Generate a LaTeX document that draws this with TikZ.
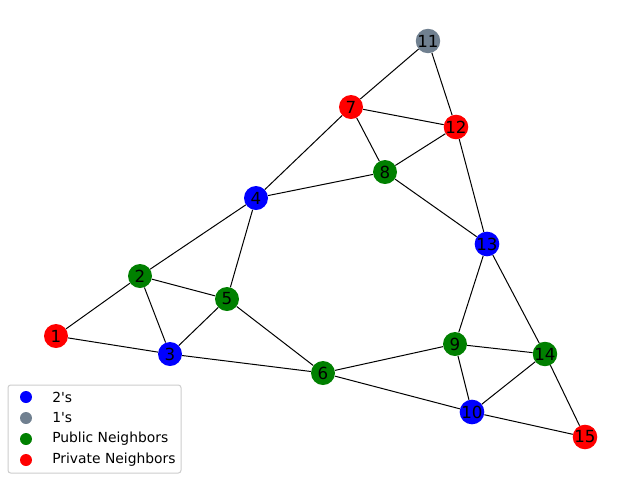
\documentclass[tikz,border=0pt]{standalone}
\usepackage{fontspec}
\setmainfont{DejaVu Sans}
\definecolor{pub}{HTML}{008000}
\definecolor{twos}{HTML}{0000FF}
\definecolor{ones}{HTML}{708090}
\definecolor{priv}{HTML}{FF0000}
\begin{document}
\begin{tikzpicture}[x=0.75pt,y=-0.75pt,
  vtx/.style={circle,minimum size=18pt,inner sep=0pt,draw=none,font=\fontsize{12.5}{14}\selectfont},
  edge/.style={draw=black,line width=0.75pt},
  lgm/.style={circle,minimum size=9pt,inner sep=0pt,draw=none},
  lgt/.style={anchor=west,font=\fontsize{10.4}{12}\selectfont,inner sep=0pt}]
\useasboundingbox (0,0) rectangle (640,480);
\node[vtx,fill=priv] (n1) at (56,336) {1};
\node[vtx,fill=pub] (n2) at (140,276) {2};
\node[vtx,fill=twos] (n3) at (170,354) {3};
\node[vtx,fill=twos] (n4) at (256,198) {4};
\node[vtx,fill=pub] (n5) at (227,299) {5};
\node[vtx,fill=pub] (n6) at (323,373) {6};
\node[vtx,fill=priv] (n7) at (351,107) {7};
\node[vtx,fill=pub] (n8) at (385,172) {8};
\node[vtx,fill=pub] (n9) at (455,344) {9};
\node[vtx,fill=twos] (n10) at (472,412) {10};
\node[vtx,fill=ones] (n11) at (428,41) {11};
\node[vtx,fill=priv] (n12) at (456,127) {12};
\node[vtx,fill=twos] (n13) at (487,244) {13};
\node[vtx,fill=pub] (n14) at (545,354) {14};
\node[vtx,fill=priv] (n15) at (585,437) {15};
\foreach \a/\b in {1/2,1/3,2/3,2/5,2/4,3/5,3/6,4/5,4/7,4/8,5/6,6/9,6/10,7/8,7/11,7/12,8/12,8/13,11/12,12/13,13/9,13/14,9/14,9/10,10/14,10/15,14/15}
  \draw[edge] (n\a) -- (n\b);
\node[draw=black!20,rounded corners=2pt,line width=0.75pt,minimum width=173*0.75pt,minimum height=88*0.75pt,inner sep=0pt] (legend) at (94.5,429) {};
\node[lgm,fill=twos] (m1) at (26,397) {};
\node[lgm,fill=ones] (m2) at (26,418) {};
\node[lgm,fill=pub] (m3) at (26,439) {};
\node[lgm,fill=priv] (m4) at (26,460) {};
\node[lgt] (t1) at (52,397) {2\textquotesingle s};
\node[lgt] (t2) at (52,418) {1\textquotesingle s};
\node[lgt] (t3) at (52,439) {Public Neighbors};
\node[lgt] (t4) at (52,460) {Private Neighbors};
\end{tikzpicture}
\end{document}
